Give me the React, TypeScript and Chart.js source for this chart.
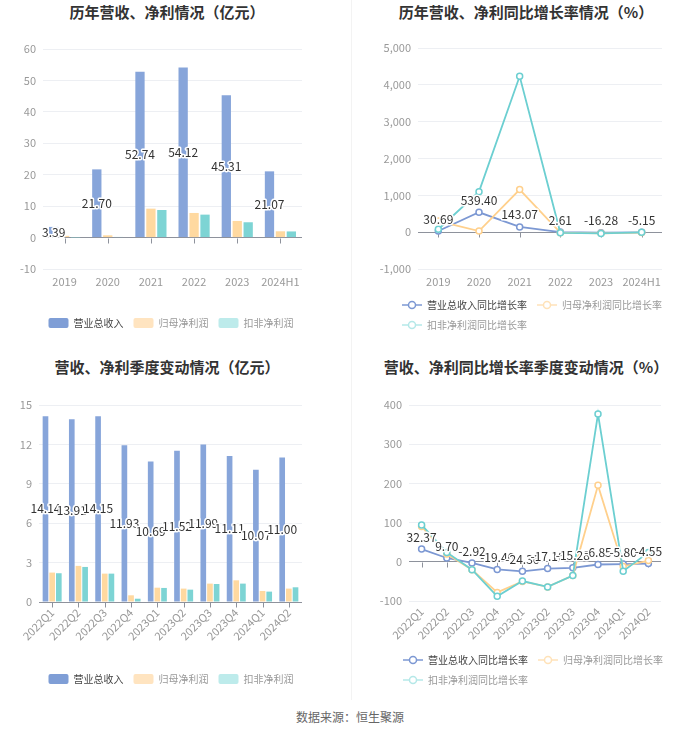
import React, { useEffect, useRef } from 'react';
import { Chart, registerables } from 'chart.js';

Chart.register(...registerables);

const FONT = "'Noto Sans CJK SC', 'Noto Sans', sans-serif";
Chart.defaults.font.family = FONT;
Chart.defaults.font.size = 11;

// ---------- data ----------
const yearCats = ['2019', '2020', '2021', '2022', '2023', '2024H1'];
const yearRevenue = [3.39, 21.7, 52.74, 54.12, 45.31, 21.07];
const yearNetProfit = [0.55, 0.72, 9.2, 7.83, 5.29, 2.0];
const yearDeducted = [0.05, 0.2, 8.78, 7.3, 4.87, 1.95];

const yearRevenueGrowth = [30.69, 539.4, 143.07, 2.61, -16.28, -5.15];
const yearNetGrowth = [300, 30, 1157, -15, -32, -12];
const yearDeductedGrowth = [80, 1100, 4231, -17, -35, -5];

const quarterCats = ['2022Q1', '2022Q2', '2022Q3', '2022Q4', '2023Q1', '2023Q2', '2023Q3', '2023Q4', '2024Q1', '2024Q2'];
const quarterRevenue = [14.14, 13.91, 14.15, 11.93, 10.69, 11.52, 11.99, 11.11, 10.07, 11.0];
const quarterNetProfit = [2.24, 2.75, 2.16, 0.51, 1.09, 1.02, 1.4, 1.65, 0.84, 1.02];
const quarterDeducted = [2.19, 2.67, 2.16, 0.25, 1.07, 0.94, 1.37, 1.4, 0.79, 1.12];

const quarterRevenueGrowth = [32.37, 9.7, -2.92, -19.46, -24.36, -17.16, -15.28, -6.85, -5.8, -4.55];
const quarterNetGrowth = [90, 20, -20, -78, -50, -64, -35, 195, -12, 3];
const quarterDeductedGrowth = [94, 24, -20, -88, -49, -64, -35, 377, -24, 24];

const barNames = ['营业总收入', '归母净利润', '扣非净利润'];
const lineNames = ['营业总收入同比增长率', '归母净利润同比增长率', '扣非净利润同比增长率'];

// ---------- styles ----------
const BAR_COLORS = ['#87A5DA', '#FFD9A0', '#7DD4D4'];
const BAR_LEGEND = ['#7F9ED6', '#FFE4C0', '#BDEBEB'];
const LINE_COLORS = ['#7C98D3', '#FFD08C', '#6CCFD1'];
const LINE_LEGEND = ['#7C98D3', '#FFE2B8', '#B5E8E8'];
const LEGEND_TEXT = ['#444', '#999', '#999'];
const GRID = '#EDEFF3';
const AXIS = '#8E929C';
const TICK = '#999';

function lineIcon(color: string) {
  const c = document.createElement('canvas');
  c.width = 20;
  c.height = 10;
  const g = c.getContext('2d')!;
  g.strokeStyle = color;
  g.lineWidth = 1.5;
  g.beginPath();
  g.moveTo(0, 5);
  g.lineTo(20, 5);
  g.stroke();
  g.beginPath();
  g.arc(10, 5, 3.5, 0, Math.PI * 2);
  g.fillStyle = '#fff';
  g.fill();
  g.stroke();
  return c;
}

const valueLabels = {
  id: 'valueLabels',
  afterDatasetsDraw(chart: any) {
    const ctx = chart.ctx;
    chart.data.datasets.forEach((ds: any, i: number) => {
      if (!ds.showValues) return;
      const meta = chart.getDatasetMeta(i);
      ctx.save();
      ctx.font = `12px ${FONT}`;
      ctx.textAlign = 'center';
      ctx.textBaseline = 'middle';
      ctx.lineJoin = 'round';
      meta.data.forEach((el: any, j: number) => {
        const v = ds.data[j];
        const x = el.x;
        const y = chart.config.type === 'bar' ? (el.y + el.base) / 2 : el.y - 12;
        const t = Number(v).toFixed(2);
        ctx.lineWidth = 3;
        ctx.strokeStyle = '#fff';
        ctx.strokeText(t, x, y);
        ctx.fillStyle = '#333';
        ctx.fillText(t, x, y);
      });
      ctx.restore();
    });
  },
};

const zeroTicks = {
  id: 'zeroTicks',
  beforeDatasetsDraw(chart: any) {
    const xs = chart.scales.x;
    const ys = chart.scales.y;
    const ctx = chart.ctx;
    const y0 = Math.round(ys.getPixelForValue(0)) + 0.5;
    ctx.save();
    ctx.strokeStyle = AXIS;
    ctx.lineWidth = 1;
    ctx.beginPath();
    xs.ticks.forEach((_t: any, i: number) => {
      const x = Math.round(xs.getPixelForTick(i)) + 0.5;
      ctx.moveTo(x, y0);
      ctx.lineTo(x, y0 + 5);
    });
    ctx.stroke();
    ctx.restore();
  },
};

const legendShift = (dx: number) => ({
  id: 'legendShift',
  afterLayout(chart: any) {
    if (chart.legend && dx) chart.legend.left += dx;
  },
});

type Geo = {
  lp: number; rp: number; pt: number; pb: number;
  yw: number; rw: number; xh: number; shift: number;
};

function baseOptions(geo: Geo, y: { min: number; max: number; step: number; fmt?: (v: number) => string }, rotate: boolean, legend: any) {
  return {
    responsive: false,
    animation: false,
    layout: { padding: { left: geo.lp, right: geo.rp, top: geo.pt, bottom: geo.pb } },
    plugins: {
      legend,
      tooltip: { enabled: false },
      title: { display: false },
    },
    scales: {
      x: {
        offset: true,
        grid: { display: false, drawTicks: false },
        border: { display: false },
        ticks: {
          color: TICK,
          font: { size: 11 },
          padding: rotate ? 4 : 6,
          autoSkip: false,
          minRotation: rotate ? 45 : 0,
          maxRotation: rotate ? 45 : 0,
        },
        afterFit: (s: any) => { s.height = geo.xh; },
      },
      y: {
        min: y.min,
        max: y.max,
        ticks: {
          stepSize: y.step,
          color: TICK,
          font: { size: 11 },
          padding: 7,
          callback: (v: any) => (y.fmt ? y.fmt(Number(v)) : String(v)),
        },
        grid: {
          drawTicks: false,
          color: (c: any) => (c.tick && c.tick.value === 0 ? AXIS : GRID),
        },
        border: { display: false },
        afterFit: (s: any) => { s.width = geo.yw; },
      },
      yR: {
        type: 'linear',
        axis: 'y',
        position: 'right',
        display: true,
        grid: { display: false, drawTicks: false },
        border: { display: false },
        ticks: { display: false },
        afterFit: (s: any) => { s.width = geo.rw; },
      },
    },
  };
}

function barConfig(labels: string[], series: number[][], geo: Geo, y: any, rotate: boolean) {
  const legend = {
    position: 'bottom',
    align: 'center',
    labels: {
      boxWidth: 20,
      boxHeight: 10,
      padding: 10,
      font: { size: 10 },
      useBorderRadius: true,
      borderRadius: 2,
      generateLabels: () =>
        barNames.map((n, i) => ({
          text: n,
          fillStyle: BAR_LEGEND[i],
          strokeStyle: BAR_LEGEND[i],
          lineWidth: 0,
          fontColor: LEGEND_TEXT[i],
          borderRadius: 2,
          hidden: false,
          datasetIndex: i,
        })),
    },
  };
  return {
    type: 'bar',
    data: {
      labels,
      datasets: series.map((d, i) => ({
        label: barNames[i],
        data: d,
        backgroundColor: BAR_COLORS[i],
        categoryPercentage: 0.76,
        barPercentage: 0.85,
        showValues: i === 0,
      })),
    },
    options: baseOptions(geo, y, rotate, legend),
    plugins: [zeroTicks, valueLabels, legendShift(geo.shift)],
  };
}

function lineConfig(labels: string[], series: number[][], geo: Geo, y: any, rotate: boolean) {
  const icons = LINE_LEGEND.map((c) => lineIcon(c));
  const legend = {
    position: 'bottom',
    align: 'start',
    labels: {
      usePointStyle: true,
      pointStyleWidth: 20,
      boxHeight: 10,
      padding: 10,
      font: { size: 10 },
      generateLabels: () =>
        lineNames.map((n, i) => ({
          text: n,
          fillStyle: '#fff',
          strokeStyle: LINE_LEGEND[i],
          lineWidth: 1.5,
          pointStyle: icons[i],
          fontColor: LEGEND_TEXT[i],
          hidden: false,
          datasetIndex: i,
        })),
    },
  };
  return {
    type: 'line',
    data: {
      labels,
      datasets: series.map((d, i) => ({
        label: lineNames[i],
        data: d,
        borderColor: LINE_COLORS[i],
        backgroundColor: LINE_COLORS[i],
        borderWidth: 1.8,
        pointRadius: 3,
        pointBorderWidth: 1.5,
        pointBackgroundColor: '#fff',
        pointBorderColor: LINE_COLORS[i],
        tension: 0,
        order: 2 - i,
        showValues: i === 0,
      })),
    },
    options: baseOptions(geo, y, rotate, legend),
    plugins: [zeroTicks, valueLabels, legendShift(geo.shift)],
  };
}

function ChartCanvas({ make, left, top }: { make: () => any; left: number; top: number }) {
  const ref = useRef<HTMLCanvasElement>(null);
  useEffect(() => {
    const chart = new Chart(ref.current!, make());
    return () => chart.destroy();
  }, []);
  return (
    <canvas
      ref={ref}
      width={350}
      height={310}
      style={{ position: 'absolute', left, top, width: 350, height: 310 }}
    />
  );
}

const titleStyle = (left: number, width: number, top: number): React.CSSProperties => ({
  position: 'absolute',
  left,
  top,
  width,
  textAlign: 'center',
  fontFamily: FONT,
  fontWeight: 'bold',
  fontSize: 15,
  lineHeight: '20px',
  color: '#333',
  whiteSpace: 'nowrap',
});

export default function App() {
  return (
    <div
      style={{
        position: 'absolute',
        left: 0,
        top: 0,
        width: 700,
        height: 734,
        background: '#fff',
        overflow: 'hidden',
      }}
    >
      <div style={{ position: 'absolute', left: 351, top: 0, width: 1, height: 700, background: '#F3F3F3' }} />
      <div style={titleStyle(0, 334, 2)}>历年营收、净利情况（亿元）</div>
      <div style={titleStyle(352, 348, 2)}>历年营收、净利同比增长率情况（%）</div>
      <div style={titleStyle(0, 334, 357)}>营收、净利季度变动情况（亿元）</div>
      <div style={titleStyle(352, 348, 357)}>营收、净利同比增长率季度变动情况（%）</div>

      <ChartCanvas
        left={0}
        top={30}
        make={() =>
          barConfig(
            yearCats,
            [yearRevenue, yearNetProfit, yearDeducted],
            { lp: 0, rp: 8, pt: 19, pb: 2, yw: 43, rw: 40, xh: 39, shift: 0 },
            { min: -10, max: 60, step: 10 },
            false
          )
        }
      />
      <ChartCanvas
        left={350}
        top={30}
        make={() =>
          lineConfig(
            yearCats,
            [yearRevenueGrowth, yearNetGrowth, yearDeductedGrowth],
            { lp: 0, rp: 8, pt: 18, pb: 0, yw: 68, rw: 30, xh: 21, shift: 42 },
            { min: -1000, max: 5000, step: 1000, fmt: (v: number) => v.toLocaleString('en-US') },
            false
          )
        }
      />
      <ChartCanvas
        left={0}
        top={385}
        make={() =>
          barConfig(
            quarterCats,
            [quarterRevenue, quarterNetProfit, quarterDeducted],
            { lp: 0, rp: 8, pt: 20, pb: 1, yw: 39, rw: 40, xh: 62, shift: 0 },
            { min: 0, max: 15, step: 3 },
            true
          )
        }
      />
      <ChartCanvas
        left={350}
        top={385}
        make={() =>
          lineConfig(
            quarterCats,
            [quarterRevenueGrowth, quarterNetGrowth, quarterDeductedGrowth],
            { lp: 0, rp: 8, pt: 20, pb: 0, yw: 59, rw: 31, xh: 44, shift: 43 },
            { min: -100, max: 400, step: 100 },
            true
          )
        }
      />

      <div
        style={{
          position: 'absolute',
          left: 0,
          top: 708,
          width: 700,
          textAlign: 'center',
          fontFamily: FONT,
          fontSize: 12,
          lineHeight: '18px',
          color: '#666',
        }}
      >
        数据来源：恒生聚源
      </div>
    </div>
  );
}
